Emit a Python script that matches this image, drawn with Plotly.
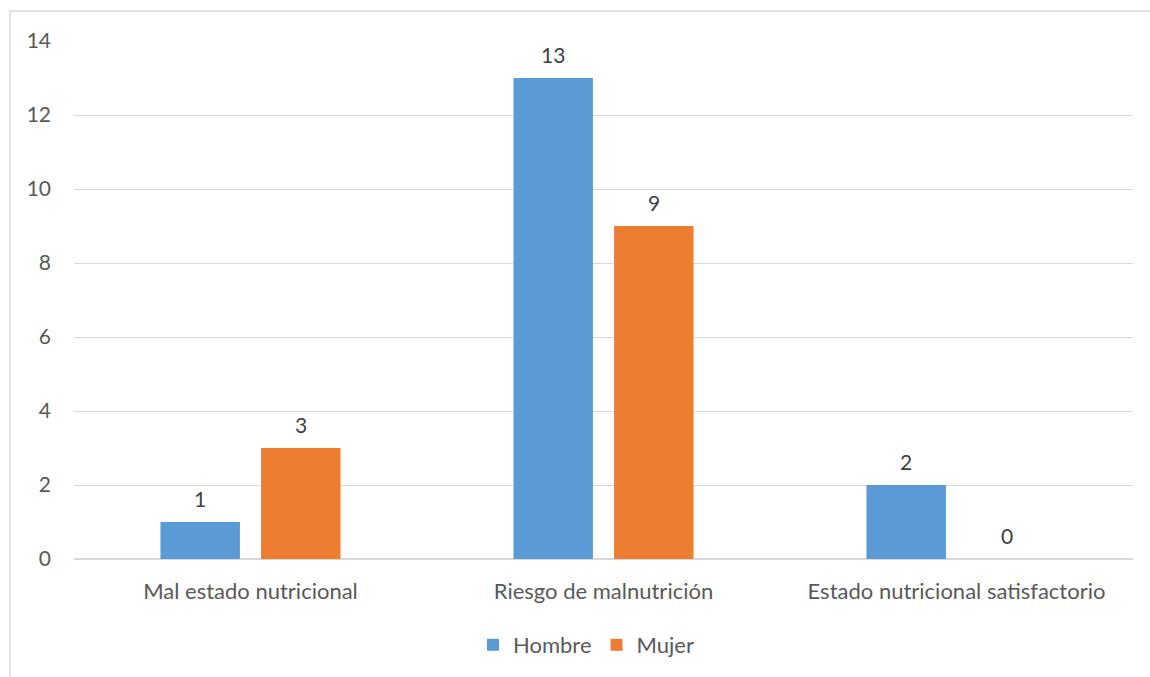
import plotly.graph_objects as go

categories = ["Mal estado nutricional", "Riesgo de malnutrición", "Estado nutricional satisfactorio"]
hombre = [1, 13, 2]
mujer = [3, 9, 0]
series_names = ["Hombre", "Mujer"]
colors = ["#5B9BD5", "#ED7D31"]
y_ticks = [0, 2, 4, 6, 8, 10, 12, 14]

FONT = "Lato"
TXT = "#595959"
FS = 22

W, H = 1150, 677
ML, MR, MT, MB = 74, 17, 41, 117
pw = W - ML - MR
ph = H - MT - MB

fig = go.Figure()
for name, vals, col in zip(series_names, [hombre, mujer], colors):
    fig.add_trace(go.Bar(x=categories, y=vals, name=name, marker=dict(color=col, line=dict(width=0))))

bargap = 0.43
bargroupgap = 0.21
slot = pw / 3 * (1 - bargap) / 2
annotations = []
for i, vals in enumerate([hombre, mujer]):
    shift = (i - 0.5) * slot
    for c, v in zip(categories, vals):
        annotations.append(dict(x=c, y=v, text=str(v), showarrow=False, xshift=shift,
                                yanchor="bottom", yshift=9,
                                font=dict(family=FONT, size=21, color="#404040")))

fig.update_layout(
    width=W, height=H,
    margin=dict(l=ML, r=MR, t=MT, b=MB),
    paper_bgcolor="white", plot_bgcolor="white",
    barmode="group", bargap=bargap, bargroupgap=bargroupgap,
    font=dict(family=FONT, size=FS, color=TXT),
    showlegend=True,
    legend=dict(orientation="h", x=(586 - ML) / pw, xanchor="center", y=-(645 - 560) / ph,
                yanchor="middle", font=dict(family=FONT, size=FS, color=TXT),
                itemwidth=30, tracegroupgap=0),
    annotations=annotations,
    shapes=[dict(type="rect", xref="paper", yref="paper",
                 x0=(10 - ML) / pw, x1=(1160 - ML) / pw,
                 y0=-(700 - 560) / ph, y1=(560 - 11) / ph,
                 line=dict(color="#D9D9D9", width=1.5), layer="below")],
    xaxis=dict(showgrid=False, showline=False, zeroline=False, ticks="",
               ticklabelstandoff=17, tickfont=dict(family=FONT, size=FS, color=TXT)),
    yaxis=dict(range=[0, 14], tickvals=y_ticks, showgrid=True, gridcolor="#D9D9D9", gridwidth=1,
               zeroline=True, zerolinecolor="#D9D9D9", zerolinewidth=1.5, showline=False,
               ticks="", ticklabelstandoff=22, tickfont=dict(family=FONT, size=21, color=TXT)),
)

fig.write_html("out.html")
